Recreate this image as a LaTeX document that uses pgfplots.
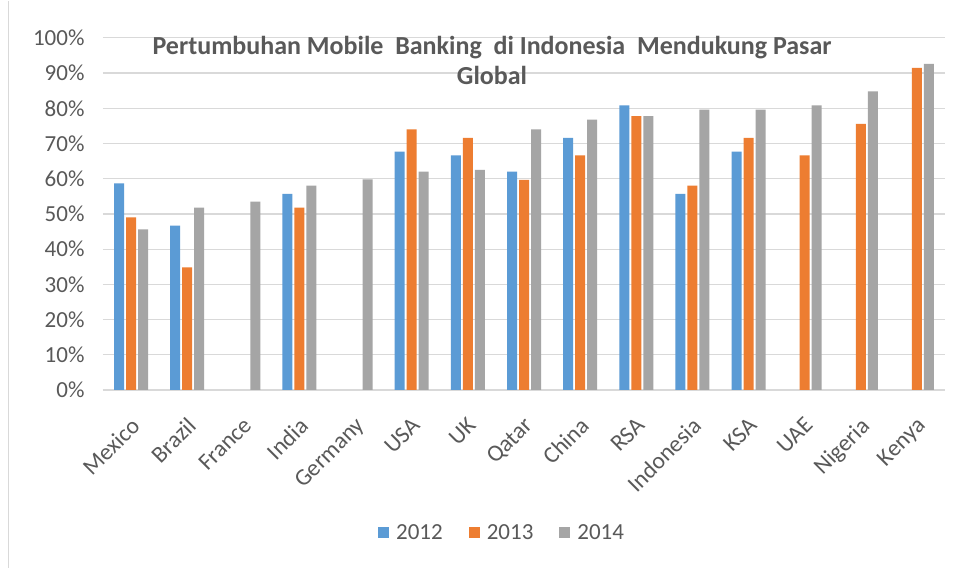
\documentclass[border=0pt]{standalone}
\usepackage{fontspec}
\setmainfont{Carlito}
\usepackage{pgfplots}
\pgfplotsset{compat=1.18}
\definecolor{cblue}{HTML}{5B9BD5}
\definecolor{corange}{HTML}{ED7D31}
\definecolor{cgray}{HTML}{A5A5A5}
\definecolor{ctext}{HTML}{595959}
\definecolor{cgrid}{HTML}{D9D9D9}
\begin{document}
\begin{tikzpicture}[x=1pt,y=1pt]
\path[fill=white] (0,0) rectangle (966,567);
\draw[cgrid, line width=1.2pt] (8.5,0) -- (8.5,567);
\begin{axis}[
  at={(103pt,177.7pt)}, anchor=south west,
  scale only axis, width=842pt, height=352pt,
  xmin=-0.5, xmax=14.5, ymin=0, ymax=100,
  ybar, bar width=10pt,
  axis x line*=bottom, axis y line*=left,
  y axis line style={draw=none},
  x axis line style={draw=cgrid, line width=1.2pt},
  major tick length=0pt,
  ymajorgrids, grid style={cgrid, line width=1.2pt},
  ytick={0,10,...,100},
  yticklabel={\pgfmathprintnumber{\tick}\%},
  /pgf/number format/assume math mode=true,
  yticklabel style={font=\fontsize{23}{27}\selectfont, text=ctext, anchor=east, xshift=-15pt},
  xtick={0,...,14},
  xticklabels={Mexico,Brazil,France,India,Germany,USA,UK,Qatar,China,RSA,Indonesia,KSA,UAE,Nigeria,Kenya},
  xticklabel style={font=\fontsize{23.5}{27}\selectfont, text=ctext, rotate=45, anchor=north east, xshift=-16pt, yshift=-14pt},
  title={Pertumbuhan Mobile\ \ Banking\ \ di Indonesia\ \ Mendukung Pasar\\Global},
  title style={at={(0.462,1.0)}, anchor=north, align=center, yshift=-1pt,
    font=\fontsize{26}{30}\selectfont\bfseries, text=ctext},
  legend style={at={(0.474,-0.406)}, anchor=center, draw=none, fill=none,
    legend columns=3, font=\fontsize{23}{27}\selectfont, text=ctext,
    /tikz/every odd column/.append style={column sep=5pt},
    /tikz/every even column/.append style={column sep=24pt}},
  legend image code/.code={\fill[#1] (0pt,-5.5pt) rectangle (11pt,5.5pt);},
]
\addplot[fill=cblue, draw=none, bar shift=-12pt] coordinates {
 (0,58.7) (1,46.7) (3,55.7) (5,67.7) (6,66.6) (7,62) (8,71.6) (9,80.8) (10,55.7) (11,67.7)};
\addplot[fill=corange, draw=none, bar shift=0pt] coordinates {
 (0,49) (1,34.8) (3,51.8) (5,74) (6,71.6) (7,59.7) (8,66.6) (9,77.8) (10,58) (11,71.6) (12,66.6) (13,75.6) (14,91.5)};
\addplot[fill=cgray, draw=none, bar shift=12pt] coordinates {
 (0,45.6) (1,51.8) (2,53.5) (3,58) (4,59.8) (5,62) (6,62.5) (7,74) (8,76.8) (9,77.8) (10,79.6) (11,79.6) (12,80.8) (13,84.8) (14,92.6)};
\legend{2012,2013,2014}
\end{axis}
\end{tikzpicture}
\end{document}
